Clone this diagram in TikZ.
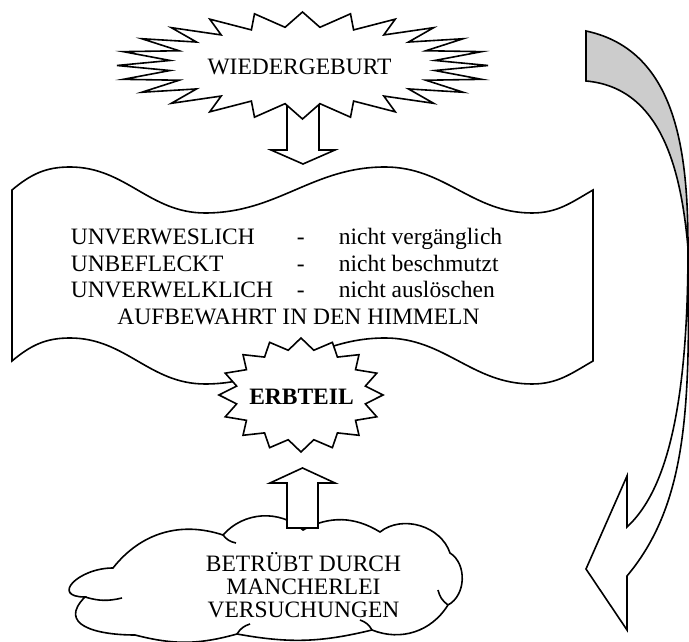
\documentclass[tikz,border=0pt]{standalone}
\usepackage{fontspec}
\setmainfont{Liberation Serif}

\begin{document}
\begin{tikzpicture}[
        x=1pt, y=1pt,
    every path/.style={line width=1.6pt},
    every node/.style={inner sep=0pt, font=\fontsize{23.5}{26.5}\selectfont},
    blockarrow/.style={draw, fill=white},
    burstline/.style={draw, fill=white}
]
\colorlet{unterseite}{black!20}
    \useasboundingbox (0,0) rectangle (689,642);

    % banner
    \draw (12,452)
        to [out=40,in=180] (70,475)
        to [out=0,in=180] (205,429)
        to [out=0,in=180] (385,475)
        to [out=0,in=180] (532,429)
        to [out=0,in=210] (593,452)
        -- (593,281)
        to [out=210,in=0] (532,258)
        to [out=180,in=0] (385,304)
        to [out=180,in=0] (205,258)
        to [out=180,in=0] (70,304)
        to [out=180,in=40] (12,281)
        -- cycle
    ;
    \node (eigen) [anchor=base west] at (70,397) {%
        \begin{tabular}[t]{@{}p{226pt}@{}p{42pt}@{}l@{}}
        UNVERWESLICH  & - & nicht vergänglich\\
        UNBEFLECKT    & - & nicht beschmutzt\\
        UNVERWELKLICH & - & nicht auslöschen
        \end{tabular}};
    \node (himmel) [anchor=base] at (298.5,317.5) {AUFBEWAHRT IN DEN HIMMELN};

    % arrow down
    \coordinate (pfeiloben) at (303,478);
    \draw [blockarrow] (pfeiloben)
        -- ++(32,14) -- ++(-16,0) -- ++(0,53)
        -- ++(-32,0) -- ++(0,-53) -- ++(-16,0) -- cycle
    ;

    \begin{scope}[shift={(302.5,576.5)}, xscale=185.5, yscale=53.5]
        \draw [burstline] (0:1)
            \foreach \k [evaluate=\k as \r using {isodd(\k) ? 0.72 : 1}] in {1,...,47} {
                -- ({\k*7.5}:\r)
            } -- cycle;
    \end{scope}
    \node (wieder) [anchor=base] at (299.5,567) {WIEDERGEBURT};

    \begin{scope}[shift={(301,247)}, xscale=82, yscale=57]
        \draw [burstline] (0:1)
            \foreach \k [evaluate=\k as \r using {isodd(\k) ? 0.8 : 1}] in {1,...,31} {
                -- ({\k*11.25}:\r)
            } -- cycle;
    \end{scope}
    \node (erbe) [anchor=base, font=\fontsize{23.5}{26.5}\selectfont\bfseries] at (301.5,237) {ERBTEIL};

    % cloud and arrow up
    \coordinate (w1) at (113,74);
    \coordinate (w2) at (223,107);
    \coordinate (w3) at (303,112);
    \coordinate (w4) at (380,110);
    \coordinate (w5) at (450,89);
    \coordinate (w6) at (448,37);
    \coordinate (w7) at (372,12);
    \coordinate (w8) at (237,8);
    \coordinate (w9) at (135,7);
    \coordinate (w10) at (85,45);
    \draw [fill=white] (w1)
        to [bend left=35] (w2)
        to [bend left=45] (w3)
        to [bend left=30] (w4)
        to [bend left=55] (w5)
        to [bend left=60] (w6)
        to [bend left=40] (w7)
        to [bend left=12] (w8)
        to [bend left=15] (w9)
        to [out=180,in=225,looseness=1.6] (w10)
        to [out=180,in=180,looseness=2.2] (w1)
        -- cycle
    ;
    \draw (w10) to [bend right=15] ++(37,-1);
    \draw (w2) to [bend right=20] ++(13,-8);
    \draw (w8) to [bend left=20] ++(13,10);
    \draw (w7) to [bend right=20] ++(-12,10);
    \draw (w6) to [bend left=20] ++(-10,15);
    \node (trueb) [anchor=base, font=\fontsize{23.5}{23}\selectfont] at (303.5,70) {%
        \begin{tabular}[t]{@{}c@{}}
        BETRÜBT DURCH\\
        MANCHERLEI\\
        VERSUCHUNGEN
        \end{tabular}};
    \coordinate (pfeilunten) at (302.5,174);
    \draw [blockarrow] (pfeilunten)
        -- ++(32.5,-15) -- ++(-17,0) -- ++(0,-45)
        -- ++(-31,0) -- ++(0,45) -- ++(-17,0) -- cycle
    ;

    % curved arrow right
    \coordinate (knick) at (688,394);
    \draw [fill=unterseite] (586,611)
        to [out=-12,in=90] (knick)
        to [out=95,in=-5] (586,561)
        -- cycle
    ;
    \draw [fill=white] (knick)
        .. controls (690,240) and (689,140) .. (627,66)
        -- (627,12) -- (586,73) -- (627,166) -- (627,115)
        .. controls (665,150) and (688,230) .. (knick)
        -- cycle
    ;
  \end{tikzpicture}
\end{document}
